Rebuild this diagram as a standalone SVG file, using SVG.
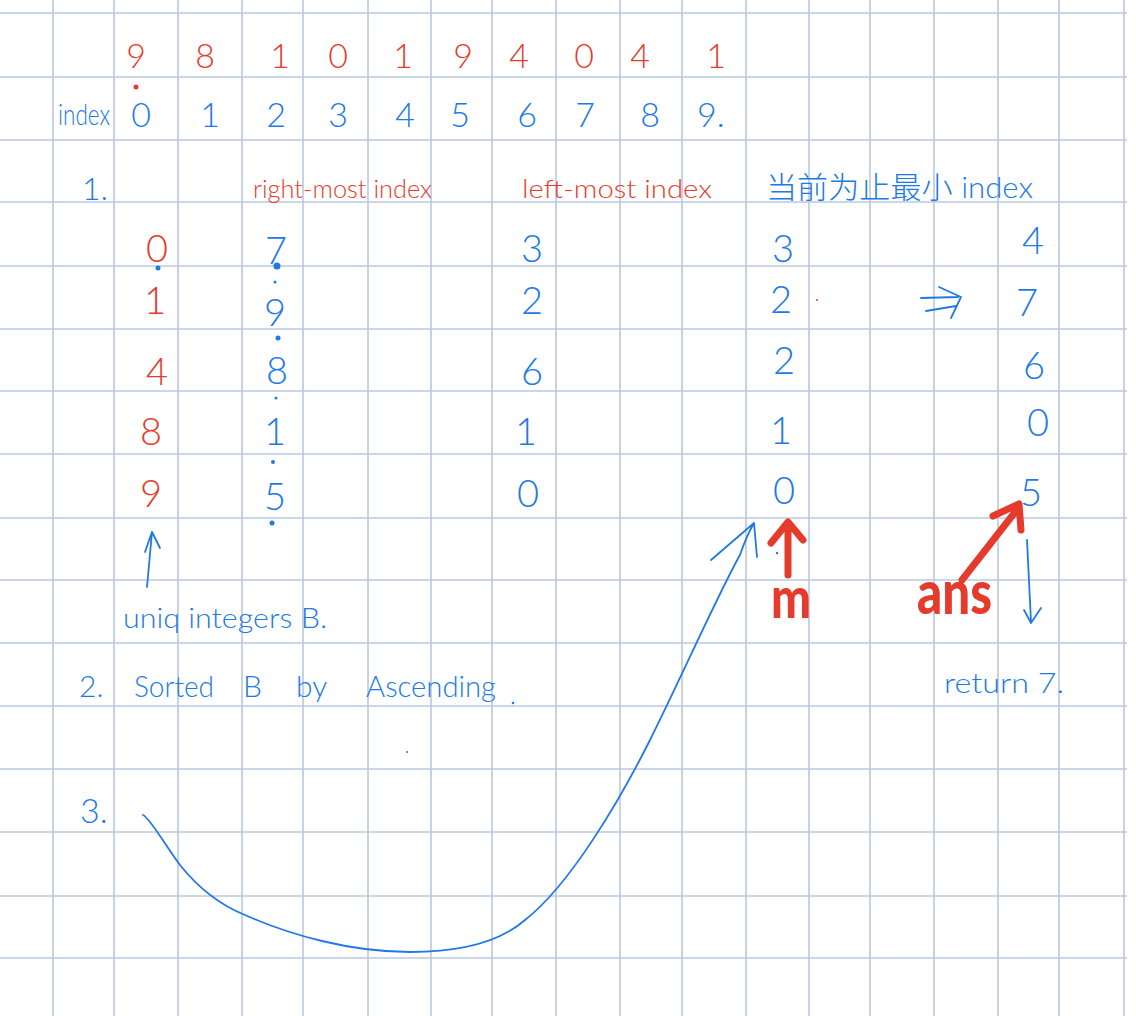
<svg xmlns="http://www.w3.org/2000/svg" width="1136" height="1016" viewBox="0 0 1136 1016">
<style>
.g{stroke:#bac9df;stroke-width:1.6;fill:none}
.r{fill:#e53b2d}
.b{fill:#2179e6}
.t{font-family:Lato,"Liberation Sans","Noto Sans CJK SC",sans-serif;font-weight:300}
.d{font-size:34px;text-anchor:middle}
.td{font-size:38px;text-anchor:middle}
.ln{fill:none;stroke-linecap:round;stroke-linejoin:round}
.bl{stroke:#2179e6;stroke-width:1.8}
.rl{stroke:#e53b2d;stroke-width:7}
.big{font-family:Lato,"Liberation Sans",sans-serif;font-weight:900}
</style>
<rect width="1136" height="1016" fill="#ffffff"/>
<g id="grid" class="g">
<path d="M53,0V1016M114,0V1016M178,0V1016M242,0V1016M303,0V1016M368,0V1016M431,0V1016M492,0V1016M556,0V1016M620,0V1016M682,0V1016M746,0V1016M809,0V1016M870,0V1016M934,0V1016M998,0V1016M1059,0V1016M1124,0V1016"/>
<path d="M0,13H1127M0,77H1127M0,140H1127M0,202H1127M0,266H1127M0,329H1127M0,391H1127M0,454H1127M0,518H1127M0,580H1127M0,643H1127M0,706H1127M0,769H1127M0,832H1127M0,896H1127M0,958H1127"/>
</g>
<g id="values" class="t d r">
<text x="136" y="68">9</text><text x="205" y="68">8</text><text x="280" y="68">1</text><text x="338" y="68">0</text><text x="403" y="68">1</text><text x="463" y="68">9</text><text x="519" y="68">4</text><text x="584" y="68">0</text><text x="640" y="68">4</text><text x="716" y="68">1</text>
</g>
<circle cx="136" cy="87" r="2.5" class="r"/>
<g id="indexrow" class="t b">
<text x="58" y="125" font-size="30" textLength="52" lengthAdjust="spacingAndGlyphs">index</text>
<g class="d"><text x="141" y="127">0</text><text x="210" y="127">1</text><text x="276" y="127">2</text><text x="338" y="127">3</text><text x="405" y="127">4</text><text x="460" y="127">5</text><text x="527" y="127">6</text><text x="585" y="127">7</text><text x="650" y="127">8</text></g>
<text x="697" y="127" font-size="34">9.</text>
</g>
<g id="step1" class="t">
<text x="82" y="200" font-size="32" class="b">1.</text>
<text x="253" y="198" font-size="26" class="r" textLength="179" lengthAdjust="spacingAndGlyphs">right-most index</text>
<text x="522" y="198" font-size="26" class="r" textLength="190" lengthAdjust="spacingAndGlyphs">left-most index</text>
<text x="766" y="198" font-size="30" class="b" textLength="267" lengthAdjust="spacingAndGlyphs">当前为止最小 index</text>
</g>
<g id="colA" class="t td r">
<text x="157" y="262">0</text><text x="155" y="314">1</text><text x="157" y="385">4</text><text x="151" y="445">8</text><text x="151" y="507">9</text>
</g>
<g id="colB" class="t td b">
<text x="276" y="264">7</text><text x="275" y="326">9</text><text x="277" y="384">8</text><text x="275" y="445">1</text><text x="275" y="510">5</text>
</g>
<g class="b">
<circle cx="158" cy="268" r="2.5"/><circle cx="277" cy="266" r="3.5"/><circle cx="275" cy="282" r="1.5"/><circle cx="278" cy="338" r="2.5"/><circle cx="276" cy="398" r="1.5"/><circle cx="273" cy="462" r="2"/><circle cx="272" cy="523" r="2.5"/>
</g>
<g id="colC" class="t td b">
<text x="532" y="262">3</text><text x="532" y="314">2</text><text x="532" y="385">6</text><text x="526" y="445">1</text><text x="528" y="507">0</text>
</g>
<g id="colD" class="t td b">
<text x="783" y="262">3</text><text x="781" y="313">2</text><text x="784" y="374">2</text><text x="781" y="444">1</text><text x="784" y="504">0</text>
</g>
<circle cx="817" cy="300" r="1" class="r"/>
<g id="colE" class="t td b">
<text x="1033" y="254">4</text><text x="1027" y="316">7</text><text x="1034" y="379">6</text><text x="1038" y="436">0</text><text x="1031" y="506">5</text>
</g>
<g id="connectors" class="ln">
<path class="bl" d="M921,298L958,297M926,311L956,306M939,287L961,297L951,318"/>
<path class="bl" d="M147,587L152,532M145,552L152,532L160,548"/>
<path class="bl" d="M1027,540L1031,622M1024,610L1031,623L1041,608"/>
<path class="bl" d="M143,815C150,818 165,845 180,865C200,890 220,905 245,915C290,935 350,952 410,952C460,952 500,942 525,920C570,885 620,800 650,740C680,680 720,590 740,555C745,540 750,530 754,523M711,560L754,523L757,557"/>
<path class="rl" d="M788,575L788,524M771,543L788,522L803,540"/>
<path class="rl" d="M962,580L1019,507M993,516L1019,504L1021,530"/>
</g>
<g id="labels">
<text x="771" y="618" font-size="58" class="big r" textLength="40" lengthAdjust="spacingAndGlyphs">m</text>
<text x="917" y="614" font-size="60" class="big r" textLength="75" lengthAdjust="spacingAndGlyphs">ans</text>
<text x="944" y="693" font-size="28" class="t b" textLength="120" lengthAdjust="spacingAndGlyphs">return 7.</text>
<text x="123" y="628" font-size="28" class="t b" textLength="204" lengthAdjust="spacingAndGlyphs">uniq integers B.</text>
<g class="t b" font-size="30">
<text x="79" y="697">2.</text>
<text x="134" y="697" textLength="80" lengthAdjust="spacingAndGlyphs">Sorted</text>
<text x="243" y="697">B</text>
<text x="296" y="697">by</text>
<text x="366" y="697" textLength="130" lengthAdjust="spacingAndGlyphs">Ascending</text>
<text x="80" y="823" font-size="34">3.</text>
</g>
<circle cx="513" cy="703" r="1.3" class="b"/>
<circle cx="407" cy="752" r="1" class="b"/>
<circle cx="777" cy="553" r="1.2" class="b"/>
</g>
</svg>
